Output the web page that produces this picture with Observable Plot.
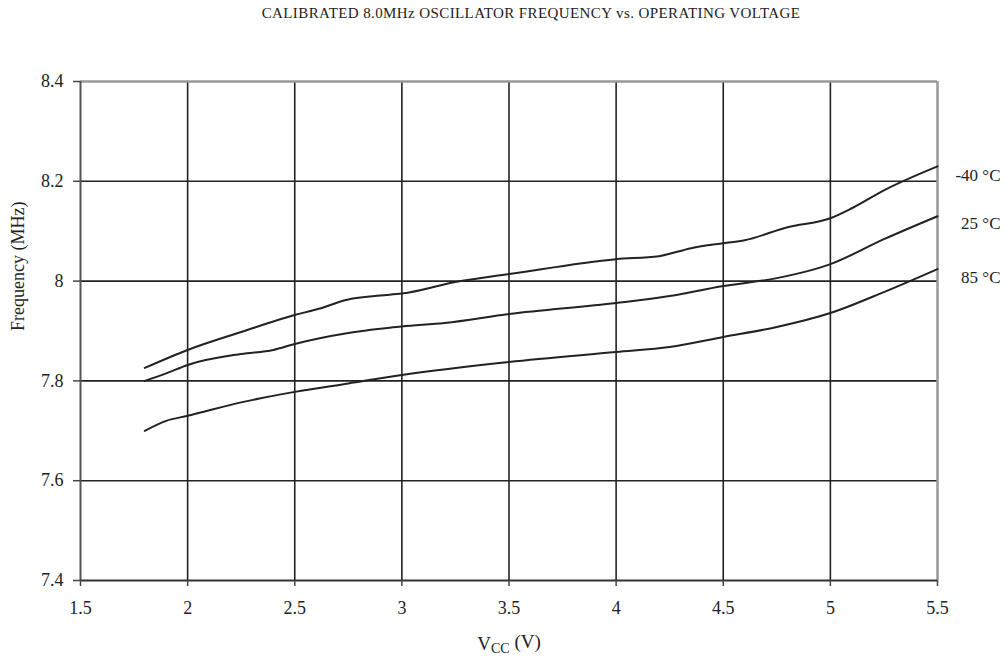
<!DOCTYPE html>
<html>
<head>
<meta charset="utf-8">
<script src="https://cdn.jsdelivr.net/npm/d3@7"></script>
<script src="https://cdn.jsdelivr.net/npm/@observablehq/plot@0.6"></script>
<style>
  html, body { margin: 0; padding: 0; background: #fff; }
  #wrap { position: relative; width: 1008px; height: 659px; overflow: hidden; font-family: "Liberation Serif", "Times New Roman", serif; }
  #title { position: absolute; top: 5px; left: 531px; transform: translateX(-50%); white-space: nowrap; font-size: 15px; color: #222; letter-spacing: 0.4px; }
  #chart { position: absolute; top: 30px; left: 0; }
</style>
</head>
<body>
<div id="wrap">
  <div id="title">CALIBRATED 8.0MHz OSCILLATOR FREQUENCY vs. OPERATING VOLTAGE</div>
  <div id="chart"></div>
</div>
<script>
// Data
const vcc_m40 = [1.8, 2.0, 2.25, 2.5, 2.6, 2.75, 2.9, 3.0, 3.25, 3.5, 4.0, 4.2, 4.35, 4.5, 4.6, 4.8, 5.0, 5.1, 5.25, 5.5];
const freq_m40 = [7.826, 7.862, 7.898, 7.932, 7.943, 7.963, 7.971, 7.975, 7.998, 8.014, 8.044, 8.050, 8.066, 8.076, 8.082, 8.108, 8.126, 8.146, 8.182, 8.230];

const vcc_25 = [1.8, 1.9, 2.0, 2.25, 2.4, 2.5, 2.75, 3.0, 3.2, 3.5, 4.0, 4.25, 4.5, 4.75, 5.0, 5.25, 5.5];
const freq_25 = [7.800, 7.815, 7.832, 7.854, 7.862, 7.874, 7.896, 7.909, 7.916, 7.934, 7.956, 7.970, 7.990, 8.006, 8.034, 8.084, 8.130];

const vcc_85 = [1.8, 1.9, 2.0, 2.25, 2.5, 2.75, 3.0, 3.5, 4.0, 4.25, 4.5, 4.75, 5.0, 5.25, 5.5];
const freq_85 = [7.700, 7.720, 7.730, 7.757, 7.778, 7.795, 7.812, 7.838, 7.858, 7.868, 7.888, 7.908, 7.936, 7.978, 8.024];

const seriesNames = ["-40 °C", "25 °C", "85 °C"];
const labelY = [8.212, 8.116, 8.008];

const xTicks = [1.5, 2, 2.5, 3, 3.5, 4, 4.5, 5, 5.5];
const yTicks = [7.4, 7.6, 7.8, 8, 8.2, 8.4];

const series = [
  {name: seriesNames[0], xs: vcc_m40, ys: freq_m40},
  {name: seriesNames[1], xs: vcc_25, ys: freq_25},
  {name: seriesNames[2], xs: vcc_85, ys: freq_85}
];
const rows = series.flatMap(s => s.xs.map((x, i) => ({series: s.name, vcc: x, freq: s.ys[i]})));
const labels = seriesNames.map((n, i) => ({series: n, vcc: 5.5, freq: labelY[i]}));

const ink = "#222";
const chart = Plot.plot({
  width: 1008,
  height: 629,
  marginTop: 51,
  marginBottom: 79,
  marginLeft: 80,
  marginRight: 71,
  style: {fontFamily: "'Liberation Serif', 'Times New Roman', serif", fontSize: "18px", color: ink, background: "#fff"},
  x: {domain: [1.5, 5.5], ticks: xTicks},
  y: {domain: [7.4, 8.4], ticks: yTicks},
  marks: [
    Plot.gridX(xTicks.slice(1, -1), {stroke: ink, strokeOpacity: 1, strokeWidth: 1.6}),
    Plot.gridY(yTicks.slice(1, -1), {stroke: ink, strokeOpacity: 1, strokeWidth: 1.6}),
    Plot.ruleY([8.4], {stroke: "#999", strokeWidth: 2.5}),
    Plot.ruleX([5.5], {stroke: "#999", strokeWidth: 2.5}),
    Plot.ruleX([1.5], {stroke: "#555", strokeWidth: 2}),
    Plot.ruleY([7.4], {stroke: "#333", strokeWidth: 2}),
    Plot.axisX({ticks: xTicks, tickSize: 6, tickPadding: 15, stroke: "#444", strokeWidth: 1.5, tickFormat: d => String(d), label: null, fontSize: 18}),
    Plot.axisY({ticks: yTicks, tickSize: 7, tickPadding: 10, stroke: "#444", strokeWidth: 1.5, tickFormat: d => String(d), label: null, fontSize: 18}),
    Plot.line(rows, {x: "vcc", y: "freq", z: "series", stroke: ink, strokeWidth: 2, curve: "monotone-x"}),
    Plot.text(labels, {x: "vcc", y: "freq", text: "series", textAnchor: "end", dx: 63, fontSize: 17, fill: ink}),
    Plot.text(["Frequency (MHz)"], {frameAnchor: "left", rotate: -90, dx: -62, fontSize: 18, fill: ink, className: "ylab"}),
    Plot.text(["VCC (V)"], {frameAnchor: "bottom", dy: 69, fontSize: 19, fill: ink, className: "xlab"})
  ]
});
document.getElementById("chart").appendChild(chart);

// Add subscript to the x-axis label
d3.select(chart).selectAll(".xlab text").each(function() {
  const t = d3.select(this);
  t.text(null);
  t.append("tspan").text("V");
  t.append("tspan").attr("font-size", "14px").attr("dy", "0.25em").text("CC");
  t.append("tspan").attr("dy", "-0.25em").text(" (V)");
});
</script>
</body>
</html>
